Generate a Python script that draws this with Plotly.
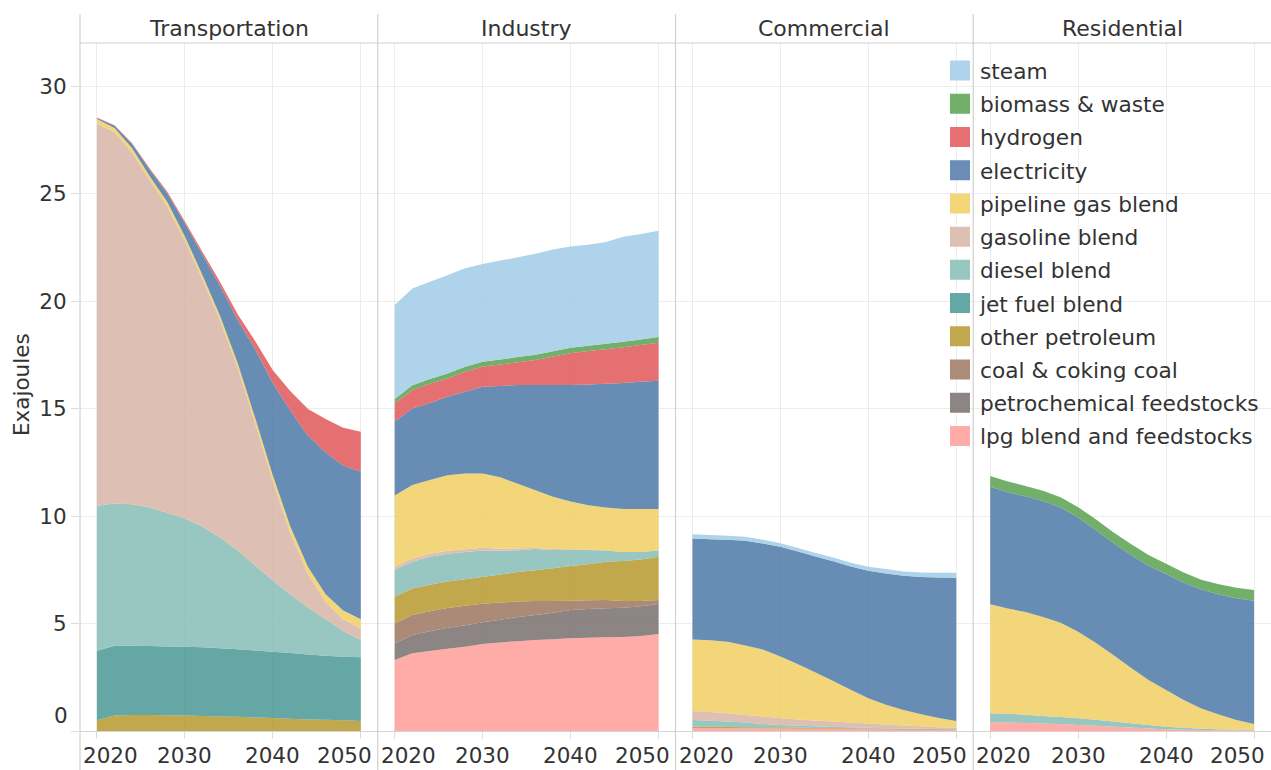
import plotly.graph_objects as go

# ---------------- data ----------------
YEARS = [2020, 2022, 2024, 2026, 2028, 2030, 2032, 2034, 2036, 2038, 2040, 2042, 2044, 2046, 2048, 2050]
SECTORS = ["Transportation", "Industry", "Commercial", "Residential"]
# stacking order, bottom to top
FUELS = ["lpg blend and feedstocks", "petrochemical feedstocks", "coal & coking coal",
         "other petroleum", "jet fuel blend", "diesel blend", "gasoline blend",
         "pipeline gas blend", "electricity", "hydrogen", "biomass & waste", "steam"]
BASE_COLORS = ["#FF9D9A", "#79706E", "#9D7660", "#B6992D", "#499894", "#86BCB6",
               "#D7B5A6", "#F1CE63", "#4E79A7", "#E15759", "#59A14F", "#A0CBE8"]
Y_TICKS = [0, 5, 10, 15, 20, 25, 30]
X_TICKS = [2020, 2030, 2040, 2050]
NONE = [0.0] * 16

# Transportation (Exajoules)
trans_other_petroleum = [0.50, 0.72, 0.75, 0.75, 0.73, 0.72, 0.70, 0.68, 0.66, 0.63, 0.60, 0.57, 0.54, 0.52, 0.50, 0.47]
trans_jet_fuel = [3.23, 3.25, 3.22, 3.20, 3.20, 3.20, 3.20, 3.17, 3.14, 3.12, 3.09, 3.06, 3.02, 2.98, 2.95, 2.96]
trans_diesel = [6.75, 6.61, 6.58, 6.45, 6.22, 5.96, 5.60, 5.15, 4.60, 3.95, 3.31, 2.72, 2.19, 1.70, 1.20, 0.80]
trans_gasoline = [17.78, 17.27, 16.35, 15.20, 14.25, 12.92, 11.50, 10.10, 8.50, 6.60, 4.60, 2.85, 1.55, 0.80, 0.55, 0.55]
trans_pipeline_gas = [0.20, 0.20, 0.20, 0.20, 0.20, 0.20, 0.20, 0.20, 0.22, 0.25, 0.28, 0.30, 0.33, 0.36, 0.40, 0.42]
trans_electricity = [0.05, 0.10, 0.20, 0.30, 0.40, 0.60, 0.95, 1.40, 2.00, 3.20, 4.30, 5.40, 6.10, 6.60, 6.75, 6.86]
trans_hydrogen = [0.03, 0.03, 0.04, 0.06, 0.08, 0.10, 0.13, 0.18, 0.26, 0.38, 0.60, 0.90, 1.25, 1.55, 1.75, 1.86]

# Industry
ind_lpg = [3.30, 3.62, 3.72, 3.82, 3.92, 4.05, 4.12, 4.18, 4.23, 4.27, 4.31, 4.34, 4.36, 4.37, 4.42, 4.51]
ind_petrochemical = [0.77, 0.85, 0.92, 0.98, 1.00, 1.01, 1.06, 1.12, 1.17, 1.23, 1.32, 1.34, 1.35, 1.36, 1.38, 1.40]
ind_coal = [0.94, 0.93, 0.93, 0.92, 0.90, 0.86, 0.80, 0.72, 0.65, 0.55, 0.43, 0.40, 0.38, 0.32, 0.25, 0.18]
ind_other_petroleum = [1.24, 1.23, 1.23, 1.23, 1.24, 1.24, 1.30, 1.37, 1.43, 1.52, 1.61, 1.68, 1.78, 1.86, 1.93, 2.01]
ind_diesel = [1.24, 1.24, 1.30, 1.30, 1.27, 1.24, 1.10, 1.02, 0.98, 0.85, 0.75, 0.66, 0.52, 0.42, 0.35, 0.29]
ind_gasoline = [0.15, 0.15, 0.14, 0.13, 0.12, 0.12, 0.10, 0.08, 0.06, 0.04, 0.03, 0.02, 0.01, 0.00, 0.00, 0.00]
ind_pipeline_gas = [3.31, 3.42, 3.44, 3.52, 3.53, 3.46, 3.32, 3.01, 2.68, 2.44, 2.22, 2.06, 2.00, 2.00, 2.00, 1.94]
ind_electricity = [3.44, 3.56, 3.57, 3.65, 3.80, 4.03, 4.25, 4.59, 4.89, 5.19, 5.42, 5.62, 5.75, 5.86, 5.91, 5.96]
ind_hydrogen = [0.85, 0.86, 0.90, 0.85, 0.93, 0.94, 1.00, 1.06, 1.17, 1.33, 1.48, 1.55, 1.61, 1.66, 1.71, 1.77]
ind_biomass = [0.20, 0.22, 0.22, 0.23, 0.23, 0.23, 0.23, 0.24, 0.24, 0.24, 0.25, 0.25, 0.25, 0.26, 0.26, 0.27]
ind_steam = [4.37, 4.50, 4.53, 4.57, 4.58, 4.54, 4.60, 4.64, 4.70, 4.74, 4.71, 4.70, 4.74, 4.88, 4.91, 4.94]

# Commercial
com_lpg = [0.14, 0.14, 0.13, 0.13, 0.12, 0.12, 0.11, 0.10, 0.10, 0.09, 0.08, 0.07, 0.06, 0.05, 0.05, 0.04]
com_other_petroleum = [0.06, 0.06, 0.06, 0.05, 0.05, 0.05, 0.05, 0.04, 0.04, 0.04, 0.04, 0.03, 0.03, 0.03, 0.03, 0.03]
com_diesel = [0.31, 0.28, 0.25, 0.21, 0.16, 0.11, 0.09, 0.08, 0.05, 0.04, 0.03, 0.03, 0.03, 0.02, 0.01, 0.01]
com_gasoline = [0.42, 0.40, 0.38, 0.36, 0.34, 0.31, 0.29, 0.27, 0.25, 0.22, 0.20, 0.17, 0.14, 0.12, 0.09, 0.07]
com_pipeline_gas = [3.33, 3.34, 3.33, 3.23, 3.12, 2.87, 2.56, 2.23, 1.89, 1.53, 1.17, 0.92, 0.72, 0.56, 0.42, 0.32]
com_electricity = [4.69, 4.70, 4.75, 4.87, 4.93, 5.11, 5.25, 5.40, 5.57, 5.73, 5.93, 6.11, 6.24, 6.38, 6.54, 6.66]
com_steam = [0.20, 0.20, 0.18, 0.18, 0.17, 0.16, 0.16, 0.16, 0.17, 0.18, 0.19, 0.20, 0.20, 0.21, 0.22, 0.23]

# Residential
res_lpg = [0.40, 0.39, 0.37, 0.35, 0.32, 0.28, 0.24, 0.20, 0.16, 0.12, 0.08, 0.06, 0.05, 0.04, 0.03, 0.02]
res_diesel = [0.42, 0.41, 0.39, 0.35, 0.33, 0.31, 0.28, 0.24, 0.20, 0.16, 0.12, 0.09, 0.06, 0.04, 0.03, 0.03]
res_pipeline_gas = [5.07, 4.90, 4.77, 4.60, 4.39, 4.03, 3.58, 3.09, 2.58, 2.09, 1.71, 1.29, 0.94, 0.69, 0.45, 0.28]
res_electricity = [5.47, 5.40, 5.39, 5.40, 5.36, 5.31, 5.25, 5.22, 5.26, 5.32, 5.39, 5.46, 5.53, 5.58, 5.67, 5.73]
res_biomass = [0.50, 0.50, 0.48, 0.47, 0.47, 0.48, 0.50, 0.50, 0.50, 0.50, 0.48, 0.47, 0.46, 0.47, 0.48, 0.50]

SECTOR_SERIES = [
    [NONE, NONE, NONE, trans_other_petroleum, trans_jet_fuel, trans_diesel, trans_gasoline,
     trans_pipeline_gas, trans_electricity, trans_hydrogen, NONE, NONE],
    [ind_lpg, ind_petrochemical, ind_coal, ind_other_petroleum, NONE, ind_diesel, ind_gasoline,
     ind_pipeline_gas, ind_electricity, ind_hydrogen, ind_biomass, ind_steam],
    [com_lpg, NONE, NONE, com_other_petroleum, NONE, com_diesel, com_gasoline,
     com_pipeline_gas, com_electricity, NONE, NONE, com_steam],
    [res_lpg, NONE, NONE, NONE, NONE, res_diesel, NONE,
     res_pipeline_gas, res_electricity, NONE, res_biomass, NONE],
]

# ---------------- style ----------------
FONT = "DejaVu Sans"
TEXT = "#333333"
GRID = "#ececec"
SEP = "#d0d0d0"
ALPHA = 0.85
W, H = 1271, 770
ML, MR, MT, MB = 80, 0, 43, 39


def rgba(hexc, a):
    h = hexc.lstrip("#")
    r, g, b = int(h[0:2], 16), int(h[2:4], 16), int(h[4:6], 16)
    return f"rgba({r},{g},{b},{a})"


def blended(hexc, a):
    h = hexc.lstrip("#")
    c = [int(h[i:i + 2], 16) for i in (0, 2, 4)]
    c = [round(a * v + (1 - a) * 255) for v in c]
    return "#%02x%02x%02x" % tuple(c)


fig = go.Figure()
n = len(SECTORS)
pw = 1.0 / n

for i, sector in enumerate(SECTORS):
    xa = "x" if i == 0 else f"x{i + 1}"
    ya = "y" if i == 0 else f"y{i + 1}"
    for fuel, col, vals in zip(FUELS, BASE_COLORS, SECTOR_SERIES[i]):
        fig.add_trace(go.Scatter(
            x=YEARS, y=vals, name=fuel, mode="none", stackgroup=f"s{i}",
            fillcolor=rgba(col, ALPHA), xaxis=xa, yaxis=ya, showlegend=False,
            hovertemplate=f"{sector}<br>{fuel}: %{{y:.2f}}<extra></extra>"))

# legend entries (top of legend = top of stack)
for fuel, col in reversed(list(zip(FUELS, BASE_COLORS))):
    c = blended(col, ALPHA)
    fig.add_trace(go.Scatter(
        x=[None], y=[None], name=fuel, mode="markers", legendgroup=fuel,
        marker=dict(symbol="square", size=16, color=c, line=dict(color=c, width=4)),
        xaxis="x4", yaxis="y4", showlegend=True, hoverinfo="skip"))

layout_axes = {}
for i in range(n):
    sx = "" if i == 0 else str(i + 1)
    layout_axes[f"xaxis{sx}"] = dict(
        domain=[i * pw, (i + 1) * pw], range=[2018.07, 2051.93], anchor=f"y{sx}",
        tickvals=X_TICKS, showticklabels=False, ticks="outside", ticklen=7,
        tickcolor="#dcdcdc", showgrid=True, gridcolor=GRID, gridwidth=1,
        zeroline=False, showline=True, linecolor="#d4d4d4", linewidth=1,
        fixedrange=True)
    layout_axes[f"yaxis{sx}"] = dict(
        domain=[0, 1], range=[0, 32], anchor=f"x{sx}",
        tickvals=Y_TICKS, ticktext=[""] + [str(v) for v in Y_TICKS[1:]],
        showticklabels=(i == 0), ticks="outside" if i == 0 else "", ticklen=8,
        tickcolor="#dcdcdc", tickfont=dict(family=FONT, size=21.5, color=TEXT),
        showgrid=True, gridcolor=GRID, gridwidth=1, zeroline=False,
        showline=False, fixedrange=True)
    if i > 0:
        layout_axes[f"yaxis{sx}"]["matches"] = "y"

annotations = []
ph = H - MT - MB
pwpx = W - ML - MR


def py2paper(py):
    return (H - MB - py) / ph


for i, sector in enumerate(SECTORS):
    annotations.append(dict(
        text=sector, x=(i + 0.5) * pw, y=py2paper(28), xref="paper", yref="paper",
        xanchor="center", yanchor="middle", showarrow=False,
        font=dict(family=FONT, size=22, color=TEXT)))
    sx = "" if i == 0 else str(i + 1)
    for t in X_TICKS:
        a = dict(text=str(t), y=0, yref="paper", yanchor="top", yshift=-11,
                 borderpad=0, showarrow=False, font=dict(family=FONT, size=21.5, color=TEXT))
        if t == X_TICKS[0]:
            a.update(x=i * pw, xref="paper", xanchor="left", xshift=2)
        elif t == X_TICKS[-1]:
            a.update(x=(i + 1) * pw, xref="paper", xanchor="right", xshift=-5)
        else:
            a.update(x=t, xref=f"x{sx}", xanchor="center")
        annotations.append(a)

# bottom value label sits inside the pane, as in the original
annotations.append(dict(text="0", x=0, y=0, xref="paper", yref="y", xanchor="right",
                        yanchor="middle", xshift=-10, yshift=16, showarrow=False,
                        font=dict(family=FONT, size=21.5, color=TEXT)))
annotations.append(dict(text="Exajoules", x=(21 - ML) / pwpx, y=py2paper(385), xref="paper",
                        yref="paper", textangle=-90, xanchor="center", yanchor="middle",
                        showarrow=False, font=dict(family=FONT, size=21.5, color=TEXT)))

shapes = []
for i in range(n):
    shapes.append(dict(type="line", xref="paper", yref="paper", x0=i * pw, x1=i * pw,
                       y0=py2paper(H), y1=py2paper(14), line=dict(color=SEP, width=1.2)))
shapes.append(dict(type="line", xref="paper", yref="paper", x0=0, x1=1,
                   y0=1, y1=1, line=dict(color=SEP, width=1.2)))

fig.update_layout(
    width=W, height=H, margin=dict(l=ML, r=MR, t=MT, b=MB, pad=0),
    paper_bgcolor="white", plot_bgcolor="white",
    font=dict(family=FONT, size=22, color=TEXT),
    showlegend=True,
    legend=dict(x=(940 - ML) / pwpx, y=py2paper(50), xanchor="left", yanchor="top",
                bgcolor="rgba(0,0,0,0)", borderwidth=0, traceorder="grouped",
                tracegroupgap=2, itemwidth=30, itemclick=False, itemdoubleclick=False,
                font=dict(family=FONT, size=21.7, color=TEXT)),
    annotations=annotations, shapes=shapes,
    **layout_axes,
)

fig.write_html("out.html", config={"displayModeBar": False},
               post_script="document.body.style.margin='0px';document.body.style.overflow='hidden';")
